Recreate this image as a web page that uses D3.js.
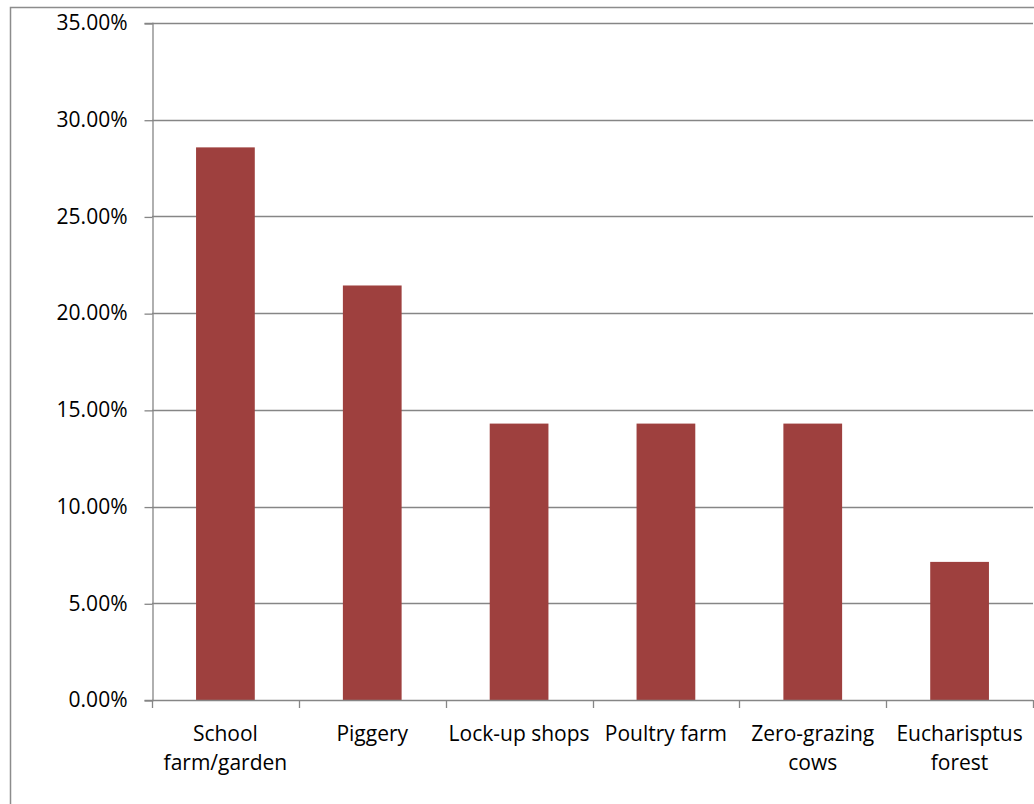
<!DOCTYPE html>
<html>
<head>
<meta charset="utf-8">
<script src="https://cdn.jsdelivr.net/npm/d3@7"></script>
<style>
  html, body { margin: 0; padding: 0; background: #fff; }
  svg { display: block; }
  text { font-family: "Open Sans", "Noto Sans", sans-serif; fill: #000; }
</style>
</head>
<body>
<svg id="chart" width="1034" height="804"></svg>
<script>
// Income-generating projects, share of responses
const categories = [
  ["School", "farm/garden"],
  ["Piggery"],
  ["Lock-up shops"],
  ["Poultry farm"],
  ["Zero-grazing", "cows"],
  ["Eucharisptus", "forest"]
];
const shares = [0.2857, 0.2143, 0.1429, 0.1429, 0.1429, 0.0714];
const yTicks = [0, 0.05, 0.10, 0.15, 0.20, 0.25, 0.30, 0.35];

const svg = d3.select("#chart");
const margin = { left: 152, right: 1033, top: 23, bottom: 700 };

// outer chart frame (right and bottom edges fall outside the view)
svg.append("rect")
  .attr("x", 10.5).attr("y", 7.5)
  .attr("width", 1100).attr("height", 900)
  .attr("fill", "none").attr("stroke", "#8c8c8c").attr("stroke-width", 1.5);

const x = d3.scaleBand()
  .domain(d3.range(categories.length))
  .range([margin.left, margin.right])
  .paddingInner(0.6).paddingOuter(0.3);

const xOuter = d3.scaleBand()
  .domain(d3.range(categories.length))
  .range([margin.left, margin.right]);

const y = d3.scaleLinear().domain([0, 0.35]).range([margin.bottom, margin.top]);

// horizontal gridlines
svg.append("g").selectAll("line")
  .data(yTicks.filter(t => t > 0))
  .join("line")
  .attr("x1", margin.left).attr("x2", margin.right)
  .attr("y1", d => Math.round(y(d)) + 0.5).attr("y2", d => Math.round(y(d)) + 0.5)
  .attr("stroke", "#868686").attr("stroke-width", 1.3);

// bars
svg.append("g").selectAll("rect")
  .data(shares)
  .join("rect")
  .attr("x", (d, i) => x(i))
  .attr("width", x.bandwidth())
  .attr("y", d => y(d))
  .attr("height", d => y(0) - y(d))
  .attr("fill", "#9e403e");

// y axis
const yAxis = d3.axisLeft(y)
  .tickValues(yTicks)
  .tickFormat(d => (d * 100).toFixed(2) + "%")
  .tickSize(8).tickPadding(17);
const gy = svg.append("g")
  .attr("transform", `translate(${margin.left + 0.5},0)`)
  .call(yAxis);
gy.select(".domain").attr("stroke", "#868686").attr("stroke-width", 1.3);
gy.selectAll(".tick line").attr("stroke", "#868686").attr("stroke-width", 1.3)
  .attr("transform", "translate(0,0.5)");
gy.selectAll(".tick text").attr("font-size", 21).attr("fill", "#000")
  .style("font-family", "'Open Sans', sans-serif");

// x axis baseline and tick marks at band boundaries
svg.append("line")
  .attr("x1", margin.left).attr("x2", margin.right)
  .attr("y1", y(0) + 0.5).attr("y2", y(0) + 0.5)
  .attr("stroke", "#868686").attr("stroke-width", 1.3);
const bounds = d3.range(categories.length + 1)
  .map(i => i < categories.length ? xOuter(i) : margin.right);
svg.append("g").selectAll("line")
  .data(bounds)
  .join("line")
  .attr("x1", d => Math.round(d) + 0.5).attr("x2", d => Math.round(d) + 0.5)
  .attr("y1", y(0)).attr("y2", y(0) + 8)
  .attr("stroke", "#868686").attr("stroke-width", 1.3);

// category labels
const labels = svg.append("g").selectAll("text")
  .data(categories)
  .join("text")
  .attr("text-anchor", "middle")
  .attr("font-size", 21)
  .attr("x", (d, i) => xOuter(i) + xOuter.bandwidth() / 2)
  .attr("y", 741);
labels.selectAll("tspan")
  .data(d => d)
  .join("tspan")
  .attr("x", function () { return this.parentNode.getAttribute("x"); })
  .attr("dy", (d, i) => i === 0 ? 0 : 29)
  .text(d => d);
</script>
</body>
</html>
